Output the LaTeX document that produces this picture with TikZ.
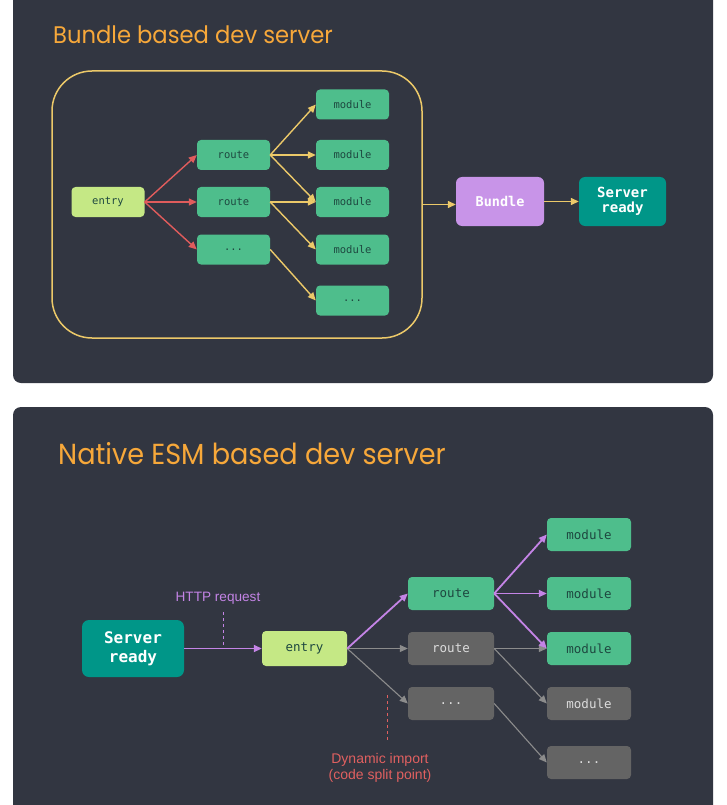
\documentclass[tikz,border=0pt]{standalone}
\usepackage{fontspec}
\setmainfont{Liberation Sans}
\newfontfamily\titlefont{Poppins}
\newfontfamily\codefont{DejaVu Sans Mono}
\usetikzlibrary{arrows.meta}
\definecolor{panel}{RGB}{50,54,65}
\definecolor{titleorange}{RGB}{247,168,58}
\definecolor{yel}{RGB}{236,201,105}
\definecolor{redarrow}{RGB}{224,92,92}
\definecolor{boxgreen}{RGB}{78,190,140}
\definecolor{entrygreen}{RGB}{197,232,133}
\definecolor{dtext}{RGB}{30,72,64}
\definecolor{bundlepurple}{RGB}{200,148,232}
\definecolor{teal}{RGB}{0,150,136}
\definecolor{purplearrow}{RGB}{196,132,230}
\definecolor{graybox}{RGB}{100,100,100}
\definecolor{graytext}{RGB}{220,220,220}
\definecolor{grayarrow}{RGB}{140,140,140}
\definecolor{redlabel}{RGB}{224,96,96}
\begin{document}
\begin{tikzpicture}[x=1pt,y=-1pt,
  box/.style={rounded corners=4pt, inner sep=0pt, text=dtext},
  smallbox/.style={box, minimum width=73pt, minimum height=30pt, font=\codefont\fontsize{10.5}{12}\selectfont},
  tgreen/.style={smallbox, fill=boxgreen},
  tentry/.style={smallbox, fill=entrygreen},
  bigbox/.style={box, minimum width=86pt, minimum height=33pt, font=\codefont\fontsize{12.5}{14}\selectfont},
  bgreen/.style={bigbox, fill=boxgreen},
  bgray/.style={bigbox, fill=graybox, text=graytext},
  bentry/.style={bigbox, fill=entrygreen, minimum width=85pt, minimum height=35pt},
  tip/.style={-{Triangle[length=8pt,width=7pt]}},
  yarrow/.style={tip, draw=yel, line width=1.4pt},
  rarrow/.style={tip, draw=redarrow, line width=1.4pt},
  parrow/.style={tip, draw=purplearrow, line width=1.8pt},
  garrow/.style={tip, draw=grayarrow, line width=1.1pt},
  titletext/.style={anchor=base west, inner sep=0pt, text=titleorange},
  srvtop/.style={box, fill=teal, text=white, minimum width=87pt, minimum height=49pt, rounded corners=6pt, align=center, font=\codefont\bfseries\fontsize{14}{16}\selectfont},
]
\useasboundingbox (0,0) rectangle (727,805);
\clip (0,0) rectangle (727,805);
\fill[white] (0,0) rectangle (727,805);
% panels
\fill[panel, rounded corners=8pt] (13,-20) rectangle (713,383);
\fill[panel, rounded corners=8pt] (13,407) rectangle (713,830);

% ===== top panel =====
\node[titletext, font=\titlefont\fontsize{24}{28}\selectfont] (t1) at (53,44) {\scalebox{0.945}[1]{Bundle based dev server}};

\node[draw=yel, line width=1.5pt, rounded corners=40pt, minimum width=370pt, minimum height=267pt, inner sep=0pt] (frame) at (237,204.5) {};

\node[tentry] (entry) at (108,202) {entry};
\node[tgreen] (r1) at (233.5,155) {route};
\node[tgreen] (r2) at (233.5,202) {route};
\node[tgreen] (r3) at (233.5,249.5) {...};
\node[tgreen] (m1) at (352.5,104.5) {module};
\node[tgreen] (m2) at (352.5,155) {module};
\node[tgreen] (m3) at (352.5,202) {module};
\node[tgreen] (m4) at (352.5,249.5) {module};
\node[tgreen] (m5) at (352.5,300.5) {...};

\draw[rarrow] (entry.east) -- (r1.west);
\draw[rarrow] (entry.east) -- (r2.west);
\draw[rarrow] (entry.east) -- (r3.west);
\draw[yarrow] (r1.east) -- (m1.west);
\draw[yarrow] (r1.east) -- (m2.west);
\draw[yarrow] (r1.east) -- (m3.west);
\draw[yarrow] (r2.east) -- (m3.west);
\draw[yarrow] (r2.east) -- (m4.west);
\draw[yarrow] (r3.east) -- (m5.west);

\node[box, fill=bundlepurple, text=white, minimum width=88pt, minimum height=49pt, rounded corners=6pt, font=\codefont\bfseries\fontsize{13.5}{16}\selectfont] (bundle) at (500,201.5) {Bundle};
\node[srvtop] (srv1) at (622.5,201.5) {Server\\[-1pt]ready};

\draw[yarrow] (frame.east) -- (frame.east -| bundle.west);
\draw[yarrow] (bundle.east) -- (srv1.west);

% ===== bottom panel =====
\node[titletext, font=\titlefont\fontsize{29}{34}\selectfont] (t2) at (58,464) {\scalebox{0.935}[1]{Native ESM based dev server}};

\node[box, fill=teal, text=white, minimum width=102pt, minimum height=57pt, rounded corners=7pt, align=center, font=\codefont\bfseries\fontsize{16}{19}\selectfont] (srv2) at (133,648.5) {Server\\[-0pt]ready};
\node[bentry] (e2) at (304.5,648.5) {entry};
\node[bgreen] (br1) at (451,593.5) {route};
\node[bgray] (br2) at (451,648.5) {route};
\node[bgray] (br3) at (451,703.5) {...};
\node[bgreen, minimum width=84pt] (bm1) at (589,534.5) {module};
\node[bgreen, minimum width=84pt] (bm2) at (589,593.5) {module};
\node[bgreen, minimum width=84pt] (bm3) at (589,648.5) {module};
\node[bgray, minimum width=84pt] (bm4) at (589,703.5) {module};
\node[bgray, minimum width=84pt] (bm5) at (589,762.5) {...};

\draw[parrow] (srv2.east) -- (e2.west);
\draw[garrow] (e2.east) -- (br2.west);
\draw[garrow] (e2.east) -- (br3.west);
\draw[garrow] (br2.east) -- (bm3.west);
\draw[garrow] (br2.east) -- (bm4.west);
\draw[garrow] (br3.east) -- (bm5.west);
\draw[parrow] (e2.east) -- (br1.west);
\draw[parrow] (br1.east) -- (bm1.west);
\draw[parrow] (br1.east) -- (bm2.west);
\draw[parrow] (br1.east) -- (bm3.west);

\node[text=purplearrow, font=\fontsize{13.6}{15}\selectfont, inner sep=0pt] (http) at (218,598) {HTTP request};
\coordinate (httptop) at (223,612);
\draw[purplearrow, dashed, line width=0.8pt] (httptop) -- (httptop |- srv2.east);

\coordinate (dyntop) at (387,695);
\coordinate (dynbot) at (387,740);
\draw[redlabel, dashed, line width=0.8pt] (dyntop) -- (dynbot);
\node[text=redlabel, font=\fontsize{14}{16.5}\selectfont, align=center, inner sep=0pt] (dyn) at (380,768) {Dynamic import\\(code split point)};
\end{tikzpicture}
\end{document}
